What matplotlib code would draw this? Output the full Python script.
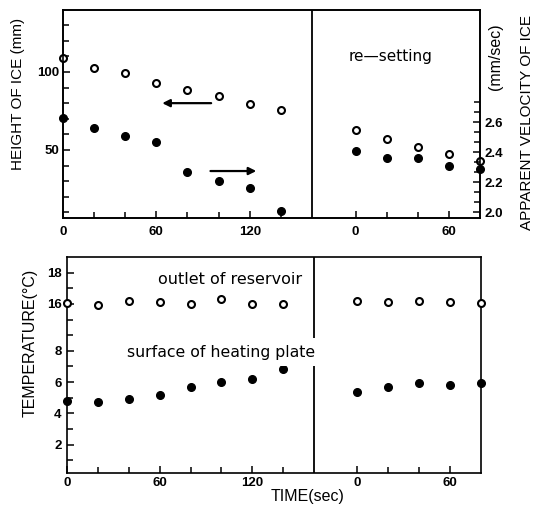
import matplotlib
matplotlib.use('Agg')
import matplotlib.pyplot as plt
from matplotlib.ticker import FixedLocator, FixedFormatter, NullFormatter
import numpy as np

# time (sec) for the first run and the run after re-setting
time_run = [0, 20, 40, 60, 80, 100, 120, 140]
time_reset = [0, 20, 40, 60, 80]

# top panel: height of ice (mm, open) and apparent velocity of ice (mm/sec, filled)
height_run = [109, 102.6, 99.4, 93, 88.5, 84.6, 79.5, 75.6]
velocity_run = [2.63, 2.56, 2.51, 2.47, 2.27, 2.21, 2.16, 2.01]
height_reset = [62.8, 57.1, 51.9, 47.4, 42.9]
velocity_reset = [2.41, 2.36, 2.36, 2.31, 2.29]

# bottom panel: temperature (degC)
outlet_run = [16.06, 15.8, 16.2, 16.1, 16.0, 16.3, 16.0, 15.9]
plate_run = [4.81, 4.75, 4.90, 5.18, 5.71, 6.03, 6.21, 6.83]
outlet_reset = [16.2, 16.1, 16.2, 16.1, 16.05]
plate_reset = [5.39, 5.71, 5.93, 5.82, 5.97]

time_ticks = [0, 60, 120, 0, 60]
height_ticks = [50, 100]
velocity_ticks = [2.0, 2.2, 2.4, 2.6]
temp_ticks = [2, 4, 6, 8, 16, 18]

W, H = 541, 516
SHIFT = 188      # axis position of t=0 after re-setting
DIVIDE = 160     # where the vertical divider sits


def fx(x):
    return x / W


def fy(y):
    return 1 - y / H


# broken temperature axis: 8..16 squeezed into 3 tick steps
def t_fwd(t):
    t = np.asarray(t, float)
    return np.where(t <= 8, t, np.where(t >= 16, t - 5, 8 + (t - 8) * 3 / 8))


def t_inv(d):
    d = np.asarray(d, float)
    return np.where(d <= 8, d, np.where(d >= 11, d + 5, 8 + (d - 8) * 8 / 3))


lab_font = ['Liberation Sans', 'DejaVu Sans']
note_font = ['DejaVu Sans']
plt.rcParams['font.family'] = ['Liberation Sans', 'DejaVu Sans']
plt.rcParams['axes.linewidth'] = 1.2

fig = plt.figure(figsize=(W / 100, H / 100), dpi=100)
ax1 = fig.add_axes([fx(63), fy(218), (480 - 63) / W, (218 - 10) / H])
ax2 = fig.add_axes([fx(67), fy(473), (481 - 67) / W, (473 - 257) / H])
ax1v = ax1.twinx()

open_kw = dict(marker='o', ls='none', mfc='white', mec='black', ms=5, mew=1.5, clip_on=False, zorder=5)
fill_kw = dict(marker='o', ls='none', color='black', ms=5.5, clip_on=False, zorder=5)

x_run = np.array(time_run)
x_reset = np.array(time_reset) + SHIFT

ax1.plot(x_run, height_run, **open_kw)
ax1.plot(x_reset, height_reset, **open_kw)
ax1v.plot(x_run, velocity_run, **fill_kw)
ax1v.plot(x_reset, velocity_reset, **fill_kw)

ax2.set_yscale('function', functions=(t_fwd, t_inv))
ax2.plot(x_run, outlet_run, **open_kw)
ax2.plot(x_reset, outlet_reset, **open_kw)
ax2.plot(x_run, plate_run, **fill_kw)
ax2.plot(x_reset, plate_reset, **fill_kw)

for ax in (ax1, ax2):
    ax.set_xlim(0, SHIFT + 80)
    ax.axvline(DIVIDE, color='black', lw=1.3, zorder=2)
    ax.xaxis.set_major_locator(FixedLocator([0, 60, 120, SHIFT, SHIFT + 60]))
    ax.xaxis.set_major_formatter(FixedFormatter([str(t) for t in time_ticks]))
    ax.xaxis.set_minor_locator(FixedLocator([20, 40, 80, 100, 140, SHIFT + 20, SHIFT + 40]))
    ax.tick_params(which='both', direction='in', top=False, right=False, width=1.1)
    ax.tick_params(which='major', length=5, labelsize=9.5)
    ax.tick_params(which='minor', length=4)
    for lab in ax.get_xticklabels() + ax.get_yticklabels():
        lab.set_fontweight('bold')

ax1.set_ylim(6.4, 139.7)
ax1.yaxis.set_major_locator(FixedLocator(height_ticks))
ax1.yaxis.set_minor_locator(FixedLocator([10, 20, 30, 40, 60, 70, 80, 90, 110, 120, 130]))
ax1.tick_params(axis='x', pad=6)
ax1.tick_params(axis='y', pad=3)

ax1v.set_ylim(1.96, 3.347)
ax1v.yaxis.set_major_locator(FixedLocator(velocity_ticks))
ax1v.yaxis.set_major_formatter(FixedFormatter(['2.0', '2.2', '2.4', '2.6']))
ax1v.yaxis.set_minor_locator(FixedLocator([2.067, 2.133, 2.267, 2.333, 2.467, 2.533, 2.667, 2.733]))
ax1v.tick_params(which='both', direction='in', left=False, right=True, width=1.1, pad=3)
ax1v.tick_params(which='major', length=5, labelsize=9.5)
ax1v.tick_params(which='minor', length=4)
for lab in ax1v.get_yticklabels():
    lab.set_fontweight('bold')

ax2.set_ylim(0.18, 19)
ax2.yaxis.set_major_locator(FixedLocator(temp_ticks))
ax2.yaxis.set_major_formatter(FixedFormatter([str(t) for t in temp_ticks]))
ax2.yaxis.set_minor_locator(FixedLocator([1, 3, 5, 7, float(t_inv(9)), float(t_inv(10)), 17]))
ax2.yaxis.set_minor_formatter(NullFormatter())
ax2.tick_params(axis='x', pad=3)
ax2.tick_params(axis='y', pad=4)
for lab in ax2.get_yticklabels():
    lab.set_fontweight('bold')

# arrows telling which axis each series belongs to
arrow = dict(arrowstyle='-|>', color='black', lw=1.6, mutation_scale=11)
ax1.annotate('', xy=(62, 80), xytext=(97, 80), arrowprops=arrow)
ax1.annotate('', xy=(126, 36.5), xytext=(93, 36.5), arrowprops=arrow)

# texts
fig.text(fx(391), fy(57), 're\u2014setting', ha='center', va='center', fontsize=11, family=note_font)
fig.text(fx(230), fy(280), 'outlet of reservoir', ha='center', va='center', fontsize=11.5, family=note_font)
fig.text(fx(221), fy(352), 'surface of heating plate', ha='center', va='center', fontsize=11.3,
         family=note_font, bbox=dict(facecolor='white', edgecolor='none', pad=5), zorder=10)

fig.text(fx(18), fy(94), 'HEIGHT OF ICE (mm)', rotation=90, ha='center', va='center',
         fontsize=11, family=lab_font)
fig.text(fx(527), fy(123), 'APPARENT VELOCITY OF ICE', rotation=90, ha='center', va='center',
         fontsize=11, family=lab_font)
fig.text(fx(495), fy(57), '(mm/sec)', rotation=90, ha='center', va='center',
         fontsize=11.5, family=lab_font)
fig.text(fx(30), fy(343), 'TEMPERATURE(\u00b0C)', rotation=90, ha='center', va='center',
         fontsize=11.5, family=lab_font)
fig.text(fx(308), fy(497), 'TIME(sec)', ha='center', va='center',
         fontsize=11.5, family=lab_font)

fig.savefig('out.png', dpi=100)
